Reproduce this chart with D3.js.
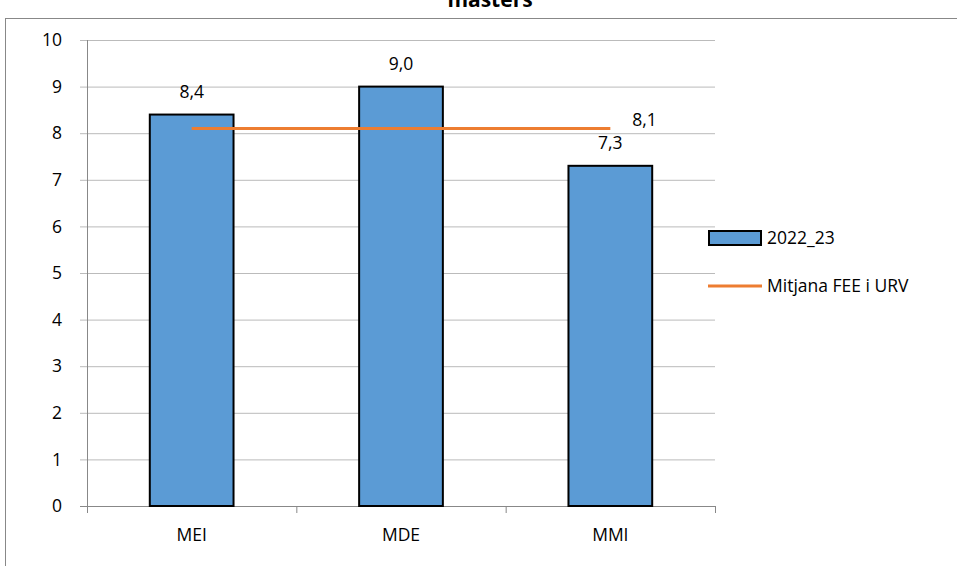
<!DOCTYPE html>
<html><head><meta charset="utf-8">
<script src="https://cdn.jsdelivr.net/npm/d3@7"></script>
<style>body{margin:0;background:#fff}svg{font-family:"Open Sans",sans-serif}</style>
</head><body>
<script>
const categories=["MEI","MDE","MMI"];
const values=[8.4,9.0,7.3];
const meanValue=8.1;
const yTicks=[0,1,2,3,4,5,6,7,8,9,10];
const seriesName="2022_23", meanName="Mitjana FEE i URV", title="masters";

const W=957,H=566;
const svg=d3.select("body").append("svg").attr("width",W).attr("height",H);
svg.append("rect").attr("x",5.5).attr("y",18.5).attr("width",W).attr("height",H).attr("fill","none").attr("stroke","#888");
svg.append("text").attr("x",490).attr("y",7).attr("text-anchor","middle").attr("font-weight","bold").attr("font-size",21).text(title);
const x=d3.scaleBand().domain(categories).range([87,715]);
const y=d3.scaleLinear().domain([0,10]).range([506,40]);
const g=svg.append("g");
const fs=17.5;
yTicks.forEach(t=>{g.append("line").attr("x1",80).attr("x2",715).attr("y1",y(t)+.5).attr("y2",y(t)+.5).attr("stroke",t===0?"#888":"#bbb");
 g.append("text").attr("x",62).attr("y",y(t)).attr("dy","0.35em").attr("text-anchor","end").attr("font-size",fs).text(t);});
g.append("line").attr("x1",87.5).attr("x2",87.5).attr("y1",40).attr("y2",506).attr("stroke","#888");
categories.forEach((c,i)=>{const x0=x(c);g.append("line").attr("x1",x0+.5).attr("x2",x0+.5).attr("y1",506).attr("y2",513).attr("stroke","#888");
 g.append("text").attr("x",x0+x.bandwidth()/2).attr("y",541).attr("text-anchor","middle").attr("font-size",fs).text(c);});
g.append("line").attr("x1",715.5).attr("x2",715.5).attr("y1",506).attr("y2",513).attr("stroke","#888");
const bw=x.bandwidth()*0.4;
categories.forEach((c,i)=>{const cx=x(c)+x.bandwidth()/2;
 g.append("rect").attr("x",cx-bw/2).attr("y",y(values[i])).attr("width",bw).attr("height",y(0)-y(values[i])).attr("fill","#5b9bd5").attr("stroke","#000").attr("stroke-width",2);
 g.append("text").attr("x",cx).attr("y",y(values[i])-17).attr("text-anchor","middle").attr("font-size",fs).text(values[i].toFixed(1).replace(".",","));});
const c0=x(categories[0])+x.bandwidth()/2,c2=x(categories[2])+x.bandwidth()/2;
g.append("line").attr("x1",c0).attr("x2",c2).attr("y1",y(meanValue)).attr("y2",y(meanValue)).attr("stroke","#ed7d31").attr("stroke-width",3);
g.append("text").attr("x",c2+22).attr("y",y(meanValue)-3).attr("font-size",fs).text(meanValue.toFixed(1).replace(".",","));
g.append("rect").attr("x",709).attr("y",231).attr("width",52).attr("height",14).attr("fill","#5b9bd5").attr("stroke","#000").attr("stroke-width",2);
g.append("text").attr("x",767).attr("y",238).attr("dy","0.35em").attr("font-size",fs).text(seriesName);
g.append("line").attr("x1",708).attr("x2",762).attr("y1",286).attr("y2",286).attr("stroke","#ed7d31").attr("stroke-width",3);
g.append("text").attr("x",767).attr("y",286).attr("dy","0.35em").attr("font-size",fs).text(meanName);
</script></body></html>
